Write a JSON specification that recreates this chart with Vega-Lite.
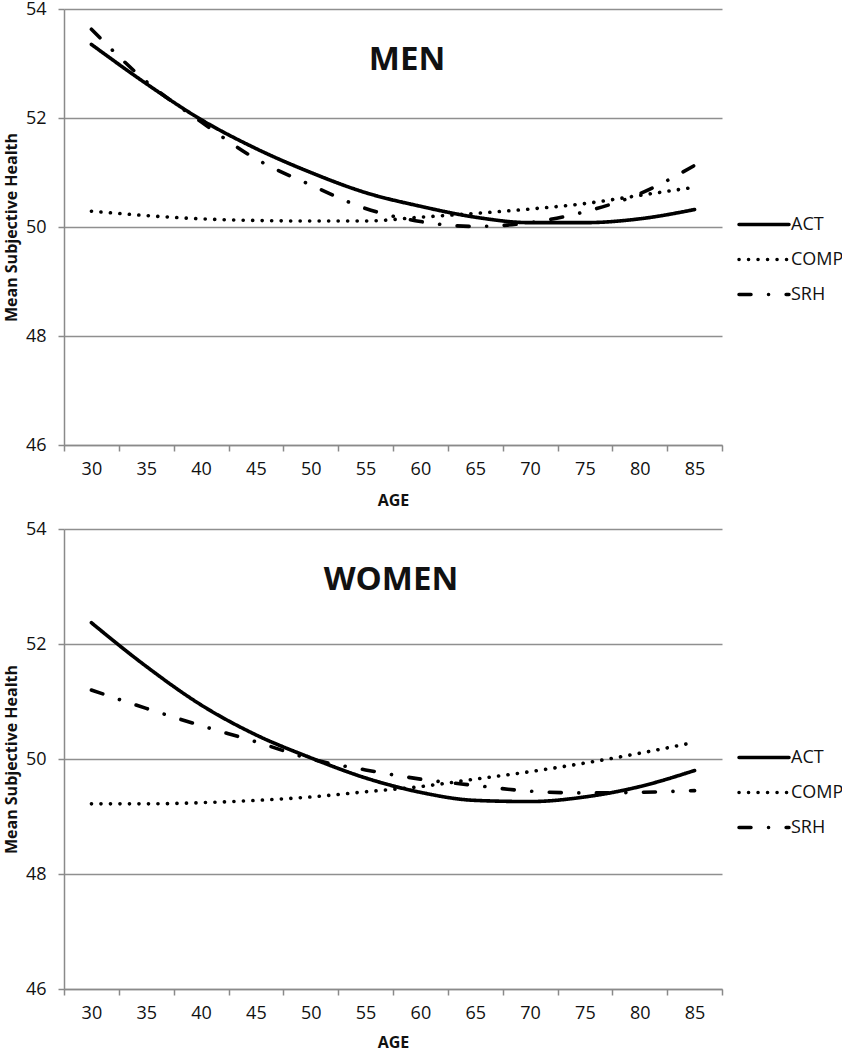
{
  "$schema": "https://vega.github.io/schema/vega-lite/v6.json",
  "padding": {"left": 3, "top": 0, "right": 0, "bottom": 0},
  "background": "white",
  "config": {
    "font": "Open Sans",
    "view": {"stroke": null},
    "axis": {
      "domainColor": "#8a8a8a", "domainWidth": 1.5,
      "tickColor": "#8a8a8a", "tickWidth": 1.5, "tickSize": 6,
      "gridColor": "#8f8f8f", "gridWidth": 1.3,
      "labelFont": "Open Sans", "labelFontSize": 18, "labelColor": "#111",
      "titleFont": "Open Sans", "titleFontWeight": "bold", "titleFontSize": 16, "titleColor": "#111"
    },
    "legend": {
      "title": null, "orient": "none", "symbolType": "stroke", "symbolSize": 2500,
      "symbolStrokeWidth": 3.5, "symbolStrokeColor": "black", "clipHeight": 17,
      "rowPadding": 16, "labelFont": "Open Sans", "labelFontSize": 18, "labelColor": "#111",
      "labelOffset": 0, "padding": 0
    }
  },
  "datasets": {
    "men": [
      {"age": 30, "measure": "ACT", "value": 53.35}, {"age": 35, "measure": "ACT", "value": 52.63},
      {"age": 40, "measure": "ACT", "value": 51.97}, {"age": 45, "measure": "ACT", "value": 51.44},
      {"age": 50, "measure": "ACT", "value": 51.0}, {"age": 55, "measure": "ACT", "value": 50.63},
      {"age": 60, "measure": "ACT", "value": 50.38}, {"age": 65, "measure": "ACT", "value": 50.18},
      {"age": 70, "measure": "ACT", "value": 50.08}, {"age": 75, "measure": "ACT", "value": 50.08},
      {"age": 80, "measure": "ACT", "value": 50.15}, {"age": 85, "measure": "ACT", "value": 50.32},
      {"age": 30, "measure": "COMP", "value": 50.29}, {"age": 35, "measure": "COMP", "value": 50.21},
      {"age": 40, "measure": "COMP", "value": 50.15}, {"age": 45, "measure": "COMP", "value": 50.12},
      {"age": 50, "measure": "COMP", "value": 50.11}, {"age": 55, "measure": "COMP", "value": 50.11},
      {"age": 60, "measure": "COMP", "value": 50.18}, {"age": 65, "measure": "COMP", "value": 50.25},
      {"age": 70, "measure": "COMP", "value": 50.33}, {"age": 75, "measure": "COMP", "value": 50.43},
      {"age": 80, "measure": "COMP", "value": 50.58}, {"age": 85, "measure": "COMP", "value": 50.73},
      {"age": 30, "measure": "SRH", "value": 53.63}, {"age": 35, "measure": "SRH", "value": 52.67},
      {"age": 40, "measure": "SRH", "value": 51.93}, {"age": 45, "measure": "SRH", "value": 51.25},
      {"age": 50, "measure": "SRH", "value": 50.77}, {"age": 55, "measure": "SRH", "value": 50.34},
      {"age": 60, "measure": "SRH", "value": 50.1}, {"age": 65, "measure": "SRH", "value": 50.01},
      {"age": 70, "measure": "SRH", "value": 50.08}, {"age": 75, "measure": "SRH", "value": 50.28},
      {"age": 80, "measure": "SRH", "value": 50.61}, {"age": 85, "measure": "SRH", "value": 51.13}
    ],
    "women": [
      {"age": 30, "measure": "ACT", "value": 52.37}, {"age": 35, "measure": "ACT", "value": 51.61},
      {"age": 40, "measure": "ACT", "value": 50.94}, {"age": 45, "measure": "ACT", "value": 50.42},
      {"age": 50, "measure": "ACT", "value": 50.02}, {"age": 55, "measure": "ACT", "value": 49.67},
      {"age": 60, "measure": "ACT", "value": 49.42}, {"age": 65, "measure": "ACT", "value": 49.28},
      {"age": 70, "measure": "ACT", "value": 49.26}, {"age": 75, "measure": "ACT", "value": 49.34},
      {"age": 80, "measure": "ACT", "value": 49.52}, {"age": 85, "measure": "ACT", "value": 49.8},
      {"age": 30, "measure": "COMP", "value": 49.22}, {"age": 35, "measure": "COMP", "value": 49.22},
      {"age": 40, "measure": "COMP", "value": 49.24}, {"age": 45, "measure": "COMP", "value": 49.28},
      {"age": 50, "measure": "COMP", "value": 49.34}, {"age": 55, "measure": "COMP", "value": 49.43},
      {"age": 60, "measure": "COMP", "value": 49.52}, {"age": 65, "measure": "COMP", "value": 49.65},
      {"age": 70, "measure": "COMP", "value": 49.78}, {"age": 75, "measure": "COMP", "value": 49.93},
      {"age": 80, "measure": "COMP", "value": 50.1}, {"age": 85, "measure": "COMP", "value": 50.29},
      {"age": 30, "measure": "SRH", "value": 51.2}, {"age": 35, "measure": "SRH", "value": 50.88},
      {"age": 40, "measure": "SRH", "value": 50.58}, {"age": 45, "measure": "SRH", "value": 50.3},
      {"age": 50, "measure": "SRH", "value": 50.0}, {"age": 55, "measure": "SRH", "value": 49.81},
      {"age": 60, "measure": "SRH", "value": 49.65}, {"age": 65, "measure": "SRH", "value": 49.54},
      {"age": 70, "measure": "SRH", "value": 49.44}, {"age": 75, "measure": "SRH", "value": 49.41},
      {"age": 80, "measure": "SRH", "value": 49.42}, {"age": 85, "measure": "SRH", "value": 49.45}
    ]
  },
  "spacing": 12,
  "resolve": {"scale": {"strokeDash": "independent"}, "legend": {"strokeDash": "independent"}},
  "vconcat": [
    {
      "data": {"name": "men"},
      "width": 658,
      "height": 436,
      "title": {"text": "MEN", "fontSize": 33, "fontWeight": "bold", "font": "Open Sans", "color": "#111", "anchor": "middle", "frame": "group", "offset": -77, "dx": 14, "baseline": "top"},
      "mark": {"type": "line", "strokeWidth": 3.6, "strokeCap": "round", "color": "black", "interpolate": "monotone"},
      "encoding": {
        "x": {"field": "age", "type": "ordinal", "scale": {"type": "band", "paddingInner": 0, "paddingOuter": 0},
              "axis": {"title": "AGE", "labelAngle": 0, "tickBand": "extent", "labelPadding": 9, "titlePadding": 14, "grid": false}},
        "y": {"field": "value", "type": "quantitative", "scale": {"domain": [46, 54], "nice": false, "zero": false},
              "axis": {"title": "Mean Subjective Health", "values": [46, 48, 50, 52, 54], "grid": true, "labelPadding": 12, "titlePadding": 6}},
        "strokeDash": {"field": "measure", "type": "nominal",
              "scale": {"domain": ["ACT", "COMP", "SRH"], "range": [[1, 0], [0.1, 9.4], [12, 17.5, 0.1, 17.5]]},
              "legend": {"legendX": 673, "legendY": 207, "encode": {"symbols": {"update": {"strokeCap": {"value": "round"}}}}}}
      }
    },
    {
      "data": {"name": "women"},
      "width": 658,
      "height": 460,
      "title": {"text": "WOMEN", "fontSize": 33, "fontWeight": "bold", "font": "Open Sans", "color": "#111", "anchor": "middle", "frame": "group", "offset": -77, "dx": -2, "baseline": "top"},
      "mark": {"type": "line", "strokeWidth": 3.6, "strokeCap": "round", "color": "black", "interpolate": "monotone"},
      "encoding": {
        "x": {"field": "age", "type": "ordinal", "scale": {"type": "band", "paddingInner": 0, "paddingOuter": 0},
              "axis": {"title": "AGE", "labelAngle": 0, "tickBand": "extent", "labelPadding": 9, "titlePadding": 12, "grid": false}},
        "y": {"field": "value", "type": "quantitative", "scale": {"domain": [46, 54], "nice": false, "zero": false},
              "axis": {"title": "Mean Subjective Health", "values": [46, 48, 50, 52, 54], "grid": true, "labelPadding": 12, "titlePadding": 6}},
        "strokeDash": {"field": "measure", "type": "nominal",
              "scale": {"domain": ["ACT", "COMP", "SRH"], "range": [[1, 0], [0.1, 9.4], [12, 17.5, 0.1, 17.5]]},
              "legend": {"legendX": 673, "legendY": 220, "encode": {"symbols": {"update": {"strokeCap": {"value": "round"}}}}}}
      }
    }
  ]
}
